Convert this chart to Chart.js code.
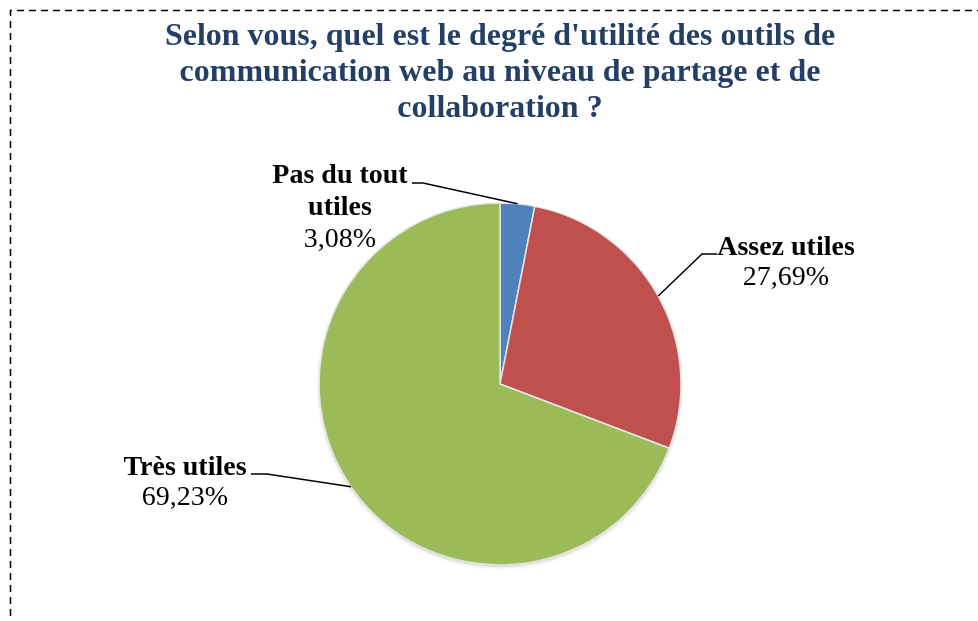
<!DOCTYPE html>
<html>
<head>
<meta charset="utf-8">
<script src="https://cdn.jsdelivr.net/npm/chart.js@4"></script>
<style>
  html, body { margin: 0; padding: 0; background: #fff; }
  #wrap { width: 978px; height: 621px; position: relative; }
</style>
</head>
<body>
<div id="wrap"><canvas id="pieChart" width="978" height="621"></canvas></div>
<script>
const categories = ["Pas du tout utiles", "Assez utiles", "Très utiles"];
const shares = [3.08, 27.69, 69.23];
const sliceColors = ["#4F81BD", "#C0504D", "#9BBB59"];
const titleLines = [
    "Selon vous, quel est le degré d'utilité des outils de",
    "communication web au niveau de partage et de",
    "collaboration ?"
];

// where each label sits, and the elbow of its leader line
const labelSpots = [
    { lines: ["Pas du tout", "utiles"], cx: 340, y: 183, step: 32, lead: [[412, 183], [423, 183]] },
    { lines: ["Assez utiles"], cx: 786, y: 255, step: 30, lead: [[717, 254], [702, 254]] },
    { lines: ["Très utiles"], cx: 185, y: 475, step: 30, lead: [[251, 474], [267, 474]] }
];

const serif = "'Liberation Serif', 'Times New Roman', serif";

const frame = {
    id: "frame",
    beforeDraw(chart) {
        const ctx = chart.ctx;
        ctx.save();
        ctx.strokeStyle = "#000";
        ctx.lineWidth = 1.5;
        ctx.setLineDash([7, 5]);
        ctx.beginPath();
        ctx.moveTo(10.5, 640);
        ctx.lineTo(10.5, 10.5);
        ctx.lineTo(1000, 10.5);
        ctx.stroke();
        ctx.restore();
    },
    beforeDatasetsDraw(chart) {
        const ctx = chart.ctx;
        ctx.save();
        ctx.shadowColor = "rgba(0,0,0,0.3)";
        ctx.shadowBlur = 4;
        ctx.shadowOffsetY = 2;
        const a = chart.getDatasetMeta(0).data[0];
        ctx.beginPath();
        ctx.arc(a.x, a.y, a.outerRadius - 1, 0, Math.PI * 2);
        ctx.fillStyle = "#fff";
        ctx.fill();
        ctx.restore();
    }
};

const pieLabels = {
    id: "pieLabels",
    afterDraw(chart) {
        const ctx = chart.ctx;
        const arcs = chart.getDatasetMeta(0).data;
        ctx.save();
        labelSpots.forEach((spot, i) => {
            const arc = arcs[i];
            const mid = (arc.startAngle + arc.endAngle) / 2;
            const ex = arc.x + Math.cos(mid) * arc.outerRadius;
            const ey = arc.y + Math.sin(mid) * arc.outerRadius;
            ctx.strokeStyle = "#000";
            ctx.lineWidth = 1.5;
            ctx.beginPath();
            ctx.moveTo(spot.lead[0][0], spot.lead[0][1]);
            ctx.lineTo(spot.lead[1][0], spot.lead[1][1]);
            ctx.lineTo(ex, ey);
            ctx.stroke();

            ctx.fillStyle = "#000";
            ctx.textAlign = "center";
            ctx.textBaseline = "alphabetic";
            let y = spot.y;
            ctx.font = "bold 28px " + serif;
            spot.lines.forEach(line => {
                ctx.fillText(line, spot.cx, y);
                y += spot.step;
            });
            ctx.font = "28px " + serif;
            ctx.fillText(shares[i].toFixed(2).replace(".", ",") + "%", spot.cx, y);
        });
        ctx.restore();
    }
};

new Chart(document.getElementById("pieChart"), {
    type: "pie",
    data: {
        labels: categories,
        datasets: [{
            data: shares,
            backgroundColor: sliceColors,
            borderColor: "#E6E6E6",
            borderWidth: 1.5,
            radius: 181
        }]
    },
    options: {
        responsive: false,
        animation: false,
        layout: { padding: { left: 22, right: 0, top: 0, bottom: 0 } },
        plugins: {
            legend: { display: false },
            tooltip: { enabled: false },
            title: {
                display: true,
                text: titleLines,
                color: "#243F66",
                font: { family: serif, size: 32, weight: "bold", lineHeight: 1.125 },
                padding: { top: 19, bottom: 20 }
            }
        }
    },
    plugins: [frame, pieLabels]
});
</script>
</body>
</html>
